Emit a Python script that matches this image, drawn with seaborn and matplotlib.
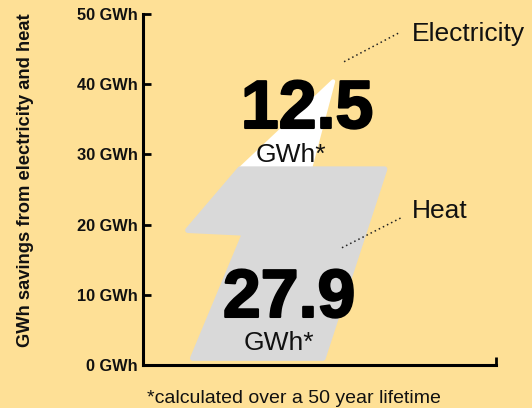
import matplotlib
matplotlib.use('Agg')
import matplotlib.pyplot as plt
import matplotlib.patheffects as pe
import seaborn as sns

# Datos
categories = ['Heat', 'Electricity']
savings = [27.9, 12.5]          # GWh
value_labels = ['27.9', '12.5']
y_ticks = [0, 10, 20, 30, 40, 50]

bg = '#FEE096'
grey = '#D9D9D9'

sns.set_theme(style='ticks', rc={'axes.facecolor': bg, 'figure.facecolor': bg})
plt.rcParams['font.family'] = ['Liberation Sans', 'DejaVu Sans']

fig = plt.figure(figsize=(5.32, 4.08), dpi=100)
ax = fig.add_axes([0.2697, 0.1054, 0.6626, 0.8603])

heat, elec = savings
total = heat + elec

# Rayo: parte de arriba (electricidad) en blanco, parte de abajo (calor) en gris
upper_x = [27.4, 53.8, 47.2]
upper_y = [heat, total, heat]
lower_x = [27.4, 68.4, 50.9, 14.0, 28.8, 12.6]
lower_y = [heat, heat, 0.035 * heat, 0.035 * heat, 0.674 * heat, 0.688 * heat]

ax.fill(upper_x, upper_y, color='white', lw=3, joinstyle='round')
ax.fill(lower_x, lower_y, color=grey, lw=4, joinstyle='round')

# Valores grandes (un poco más gruesos con un trazo)
heavy = [pe.withStroke(linewidth=1.5, foreground='black')]
ax.text(46.4, heat + 5.86, value_labels[1], fontsize=49, fontweight='bold',
        ha='center', va='baseline', color='black', path_effects=heavy)
ax.text(41.7, heat + 1.0, 'GWh*', fontsize=19, ha='center', va='baseline', color='#111111')
ax.text(41.3, 6.84, value_labels[0], fontsize=49, fontweight='bold',
        ha='center', va='baseline', color='black', path_effects=heavy)
ax.text(38.3, 2.14, 'GWh*', fontsize=19, ha='center', va='baseline', color='#111111')

# Etiquetas con línea de puntos
ax.plot([56.9, 72.8], [43.2, 47.4], ls=(0, (1, 2)), lw=1.1, color='#222222')
ax.text(76.2, 46.15, categories[1], fontsize=19, ha='left', va='baseline', color='#111111')
ax.plot([56.3, 73.6], [16.7, 21.1], ls=(0, (1, 2)), lw=1.1, color='#222222')
ax.text(76.2, 20.9, categories[0], fontsize=19, ha='left', va='baseline', color='#111111')

# Ejes
ax.set_xlim(0, 100)
ax.set_ylim(0, 50)
ax.set_yticks(y_ticks)
ax.set_yticklabels([f'{t} GWh' for t in y_ticks], fontweight='bold', fontsize=11.8, color='#111111')
ax.set_xticks([100])
ax.set_xticklabels([])
ax.tick_params(axis='y', direction='in', length=6, width=2, pad=4, color='black')
ax.tick_params(axis='x', direction='in', length=6, width=2, color='black')
sns.despine(ax=ax)
for s in ['left', 'bottom']:
    ax.spines[s].set_linewidth(2.2)
    ax.spines[s].set_color('black')

fig.text(0.047, 0.558, 'GWh savings from electricity and heat', rotation=90,
         fontsize=13.2, fontweight='bold', ha='center', va='center', color='#111111')
fig.text(0.276, 0.012, '*calculated over a 50 year lifetime', fontsize=14,
         ha='left', va='baseline', color='#111111')

fig.savefig('out.png', dpi=100)
